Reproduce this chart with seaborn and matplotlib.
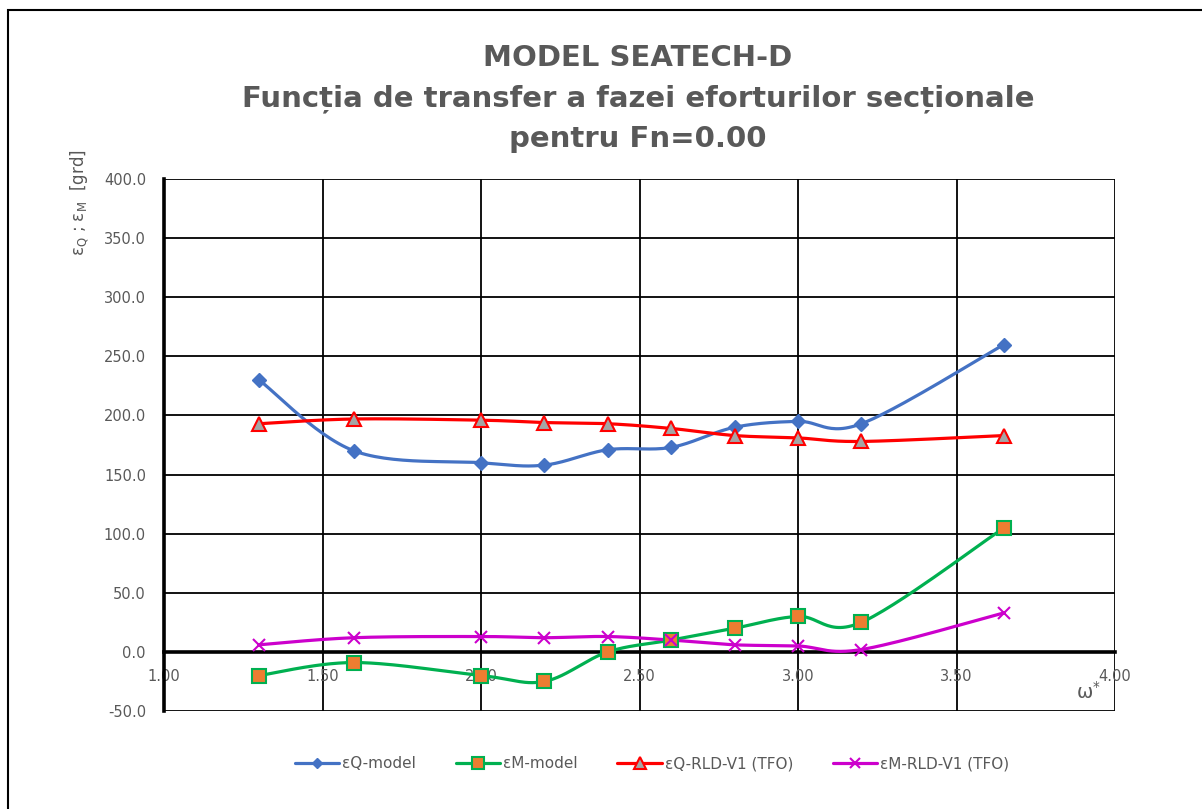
import numpy as np
import pandas as pd
import matplotlib
matplotlib.use("Agg")
import matplotlib.pyplot as plt
from matplotlib.lines import Line2D
from matplotlib.patches import Rectangle
import seaborn as sns

# ---------------- data ----------------
omega = [1.30, 1.60, 2.00, 2.20, 2.40, 2.60, 2.80, 3.00, 3.20, 3.65]
eQ_model = [230, 170, 160, 158, 171, 173, 190, 195, 193, 260]
eM_model = [-20, -9, -20, -25, 0, 10, 20, 30, 25, 105]
eQ_rld = [193, 197, 196, 194, 193, 189, 183, 181, 178, 183]
eM_rld = [6, 12, 13, 12, 13, 10, 6, 5, 2, 33]

series_names = ["εQ-model", "εM-model", "εQ-RLD-V1 (TFO)", "εM-RLD-V1 (TFO)"]
x_ticks = [1.00, 1.50, 2.00, 2.50, 3.00, 3.50, 4.00]
y_ticks = [-50, 0, 50, 100, 150, 200, 250, 300, 350, 400]

title_lines = ["MODEL SEATECH-D",
               "Funcția de transfer a fazei eforturilor secționale",
               "pentru Fn=0.00"]

# ---------------- style ----------------
sns.set_theme(style="white")
plt.rcParams['font.family'] = ['DejaVu Sans']
GRAY = "#595959"

fig = plt.figure(figsize=(12.02, 8.09), dpi=100)
ax = fig.add_axes([164/1202, 1-711/809, 951/1202, 532/809])

XS, YS = 317.0, 532/450.0  # visual scale for smoothing (px per unit)


def smooth(x, y, n=30):
    """Excel-like smoothed line (Catmull-Rom / Bezier with 1/6 tension)."""
    P = np.column_stack([np.asarray(x, float) * XS, np.asarray(y, float) * YS])
    Pp = np.vstack([P[0], P, P[-1]])
    out = []
    t = np.linspace(0, 1, n)[:, None]
    for i in range(len(P) - 1):
        p0, p1, p2, p3 = Pp[i], Pp[i+1], Pp[i+2], Pp[i+3]
        c1 = p1 + (p2 - p0) / 6
        c2 = p2 - (p3 - p1) / 6
        seg = ((1-t)**3)*p1 + 3*((1-t)**2)*t*c1 + 3*(1-t)*t**2*c2 + t**3*p2
        out.append(seg if i == 0 else seg[1:])
    S = np.vstack(out)
    return S[:, 0] / XS, S[:, 1] / YS


styles = [
    dict(color="#4472C4", marker="D", mfc="#4472C4", mec="#4472C4", ms=7, mew=1),
    dict(color="#00B050", marker="s", mfc="#ED7D31", mec="#00B050", ms=10, mew=1.5),
    dict(color="#FF0000", marker="^", mfc="#A5A5A5", mec="#FF0000", ms=10, mew=1.5),
    dict(color="#CC00CC", marker="x", mfc="#CC00CC", mec="#CC00CC", ms=9, mew=1.5),
]
all_series = [eQ_model, eM_model, eQ_rld, eM_rld]

handles = []
for name, vals, st in zip(series_names, all_series, styles):
    sx, sy = smooth(omega, vals)
    sns.lineplot(x=sx, y=sy, sort=False, ax=ax, color=st["color"], lw=2.3,
                 zorder=3, estimator=None)
    ax.plot(omega, vals, linestyle="none", marker=st["marker"], ms=st["ms"],
            mfc=st["mfc"], mec=st["mec"], mew=st["mew"], zorder=4)
    handles.append(Line2D([0], [0], color=st["color"], lw=2.3, marker=st["marker"],
                          ms=st["ms"]*0.8, mfc=st["mfc"], mec=st["mec"], mew=st["mew"]))

ax.set_xlim(1.0, 4.0)
ax.set_ylim(-50, 400)
ax.set_xticks(x_ticks)
ax.set_xticklabels([f"{v:.2f}" for v in x_ticks])
ax.set_yticks(y_ticks)
ax.set_yticklabels([f"{v:.1f}" for v in y_ticks])
ax.grid(True, color="black", lw=1.3)
ax.set_axisbelow(True)
for s in ["top", "right"]:
    ax.spines[s].set_visible(False)
ax.spines["left"].set_color("black")
ax.spines["left"].set_linewidth(2.6)
ax.spines["bottom"].set_position(("data", 0))
ax.spines["bottom"].set_color("black")
ax.spines["bottom"].set_linewidth(2.6)
ax.spines["bottom"].set_zorder(2.5)
ax.tick_params(axis="x", length=0, pad=12, labelsize=10.5, labelcolor=GRAY)
ax.tick_params(axis="y", length=0, pad=13, labelsize=10.5, labelcolor=GRAY)
ax.set_xlabel("")
ax.set_ylabel("")
ax.set_facecolor("white")

# titles
for i, line in enumerate(title_lines):
    fig.text(638/1202, 1-(58 + 40.5*i)/809, line, ha="center", va="center",
             fontsize=21, fontweight="bold", color=GRAY, family="DejaVu Sans")

# axis labels
fig.text(80/1202, 1-203/809, r"ε$_\mathregular{Q}$ ; ε$_\mathregular{M}$  [grd]",
         rotation=90, ha="center", va="center", fontsize=12, color=GRAY)
fig.text(1088/1202, 1-692/809, r"ω$^\mathregular{*}$", ha="center", va="center",
         fontsize=14, color=GRAY)

# legend
fig.legend(handles, series_names, loc="center", ncol=4,
           bbox_to_anchor=(652/1202, 1-764/809), frameon=False,
           fontsize=11, labelcolor=GRAY, columnspacing=2.6, handlelength=2.9,
           handletextpad=0.2)

# outer border
fig.add_artist(Rectangle((8/1202, -0.1), 1.2, 1 - 10/809 + 0.1,
                         transform=fig.transFigure, fill=False,
                         edgecolor="black", lw=1.5))

fig.savefig("out.png", dpi=100)
